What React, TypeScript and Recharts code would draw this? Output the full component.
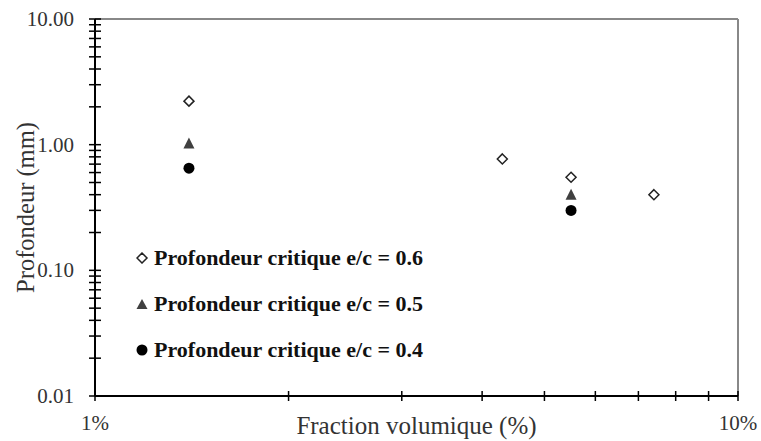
import React from "react";
import { ScatterChart, Scatter, XAxis, YAxis, ReferenceLine } from "recharts";

const FONT = '"Liberation Serif", "Times New Roman", serif';

// fraction volumique (%) / profondeur (mm)
const ec06 = [
  { x: 1.4, y: 2.22 },
  { x: 4.3, y: 0.77 },
  { x: 5.5, y: 0.55 },
  { x: 7.4, y: 0.4 },
];
const ec05 = [
  { x: 1.4, y: 1.02 },
  { x: 5.5, y: 0.4 },
];
const ec04 = [
  { x: 1.4, y: 0.65 },
  { x: 5.5, y: 0.3 },
];

const xTicks = [1, 2, 3, 4, 5, 6, 7, 8, 9, 10];
const xMajor = [1, 10];
const yTicks = [
  0.01, 0.02, 0.03, 0.04, 0.05, 0.06, 0.07, 0.08, 0.09,
  0.1, 0.2, 0.3, 0.4, 0.5, 0.6, 0.7, 0.8, 0.9,
  1, 2, 3, 4, 5, 6, 7, 8, 9, 10,
];
const yMajor = [0.01, 0.1, 1, 10];

const seriesNames = [
  "Profondeur critique e/c = 0.6",
  "Profondeur critique e/c = 0.5",
  "Profondeur critique e/c = 0.4",
];

const Diamond = ({ cx, cy }: any) => (
  <path
    d={`M${cx},${cy - 5} L${cx + 5},${cy} L${cx},${cy + 5} L${cx - 5},${cy} Z`}
    fill="#fff"
    stroke="#222"
    strokeWidth={1.5}
  />
);
const Triangle = ({ cx, cy }: any) => (
  <path
    d={`M${cx},${cy - 6} L${cx + 5.5},${cy + 5} L${cx - 5.5},${cy + 5} Z`}
    fill="#404040"
  />
);
const Dot = ({ cx, cy }: any) => <circle cx={cx} cy={cy} r={5.5} fill="#000" />;

const YTick = ({ x, y, payload }: any) => {
  const major = yMajor.includes(payload.value);
  return (
    <g>
      <line x1={x - 6} x2={x + 6} y1={y} y2={y} stroke="#000" strokeWidth={1.5} />
      {major && (
        <text x={x - 21} y={y} textAnchor="end" dominantBaseline="central" fontSize={21} fontFamily={FONT} fill="#333">
          {payload.value.toFixed(2)}
        </text>
      )}
    </g>
  );
};

const XTick = ({ x, y, payload }: any) => {
  const major = xMajor.includes(payload.value);
  return (
    <g>
      <line x1={x} x2={x} y1={y - 5} y2={y + 5} stroke="#000" strokeWidth={1.5} />
      {major && (
        <text x={x} y={y + 34} textAnchor="middle" fontSize={21} fontFamily={FONT} fill="#333">
          {payload.value + "%"}
        </text>
      )}
    </g>
  );
};

const LegendBox = () => {
  const marks = [
    <path key="d" d="M6,1 L11,6 L6,11 L1,6 Z" fill="#fff" stroke="#222" strokeWidth={1.5} />,
    <path key="t" d="M6,1 L11.5,11 L0.5,11 Z" fill="#404040" />,
    <circle key="c" cx={6} cy={6} r={5.5} fill="#000" />,
  ];
  return (
    <div style={{ position: "absolute", left: 136, top: 235, fontFamily: FONT }}>
      {seriesNames.map((n, i) => (
        <div key={n} style={{ display: "flex", alignItems: "center", height: 46 }}>
          <svg width={13} height={12} style={{ marginRight: 5 }}>
            {marks[i]}
          </svg>
          <span style={{ fontWeight: "bold", fontSize: 22, color: "#111", whiteSpace: "nowrap" }}>{n}</span>
        </div>
      ))}
    </div>
  );
};

export default function App() {
  return (
    <div style={{ position: "absolute", left: 0, top: 0, width: 761, height: 441, background: "#fff" }}>
      <ScatterChart width={761} height={441} margin={{ top: 19, right: 23, bottom: 0, left: 0 }}>
        <XAxis
          type="number"
          dataKey="x"
          scale="log"
          domain={[1, 10]}
          allowDataOverflow
          ticks={xTicks}
          interval={0}
          tick={<XTick />}
          tickLine={false}
          tickSize={0}
          tickMargin={0}
          height={45}
          axisLine={{ stroke: "#000", strokeWidth: 2 }}
          label={{
            value: "Fraction volumique (%)",
            position: "center",
            dy: 7,
            style: { fontSize: 25, fontFamily: FONT, fill: "#333" },
          }}
        />
        <YAxis
          type="number"
          dataKey="y"
          scale="log"
          domain={[0.01, 10]}
          allowDataOverflow
          ticks={yTicks}
          interval={0}
          tick={<YTick />}
          tickLine={false}
          tickSize={0}
          tickMargin={0}
          width={95}
          axisLine={{ stroke: "#000", strokeWidth: 2 }}
          label={{
            value: "Profondeur (mm)",
            angle: -90,
            position: "center",
            dx: -22,
            style: { fontSize: 24.5, fontFamily: FONT, fill: "#333", textAnchor: "middle" },
          }}
        />
        <ReferenceLine y={10} stroke="#888" strokeWidth={2} />
        <ReferenceLine x={10} stroke="#888" strokeWidth={2} />
        <Scatter name={seriesNames[0]} data={ec06} shape={<Diamond />} isAnimationActive={false} />
        <Scatter name={seriesNames[1]} data={ec05} shape={<Triangle />} isAnimationActive={false} />
        <Scatter name={seriesNames[2]} data={ec04} shape={<Dot />} isAnimationActive={false} />
      </ScatterChart>
      <LegendBox />
    </div>
  );
}
